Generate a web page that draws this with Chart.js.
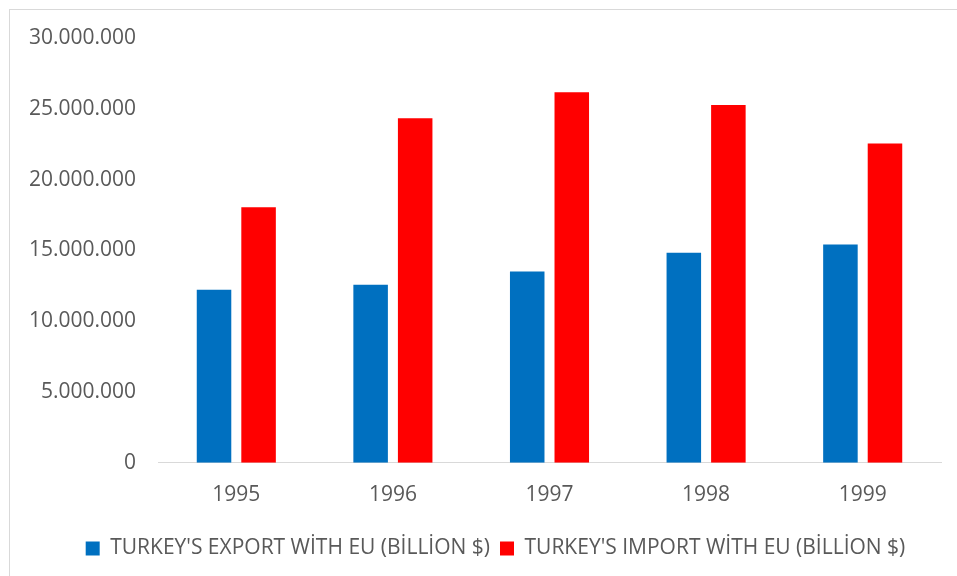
<!DOCTYPE html>
<html>
<head>
<meta charset="utf-8">
<script src="https://cdn.jsdelivr.net/npm/chart.js@4.4.1/dist/chart.umd.min.js"></script>
<style>
  html, body { margin: 0; padding: 0; background: #ffffff; overflow: hidden; }
  body { width: 957px; height: 576px; position: relative; }
  #frame {
    position: absolute; left: 9px; top: 9px;
    width: 971px; height: 600px;
    border-left: 1px solid #d9d9d9; border-top: 1px solid #d9d9d9;
  }
  #wrap { position: absolute; left: 0; top: 0; width: 971px; height: 566px; }
</style>
</head>
<body>
<div id="frame"><div id="wrap"><canvas id="chart"></canvas></div></div>
<script>
// Turkey's trade with the EU, 1995-1999
const years = ['1995', '1996', '1997', '1998', '1999'];
const exportEU = [12220000, 12570000, 13510000, 14840000, 15420000];
const importEU = [18040000, 24340000, 26160000, 25260000, 22550000];
const seriesNames = ["TURKEY'S EXPORT WİTH EU (BİLLİON $)", "TURKEY'S IMPORT WİTH EU (BİLLİON $)"];
const yMax = 30000000;
const yStep = 5000000;

const textGray = '#595959';
const fontFamily = "'Open Sans', sans-serif";

// 30000000 -> "30.000.000"
function dotted(v) {
  return String(Math.round(v)).replace(/\B(?=(\d{3})+(?!\d))/g, '.');
}

new Chart(document.getElementById('chart'), {
  type: 'bar',
  data: {
    labels: years,
    datasets: [
      { label: seriesNames[0], data: exportEU, backgroundColor: '#0070C0', borderWidth: 0 },
      { label: seriesNames[1], data: importEU, backgroundColor: '#FF0000', borderWidth: 0 }
    ]
  },
  options: {
    responsive: true,
    maintainAspectRatio: false,
    animation: false,
    categoryPercentage: 0.569,
    barPercentage: 0.775,
    layout: { padding: { top: 28, left: 0, right: 0, bottom: 7 } },
    plugins: {
      tooltip: { enabled: false },
      legend: {
        position: 'bottom',
        labels: {
          color: textGray,
          font: { family: fontFamily, size: 21 },
          boxWidth: 14,
          boxHeight: 14,
          padding: 10
        }
      }
    },
    scales: {
      x: {
        grid: { display: false, drawTicks: false },
        border: { display: true, color: '#d9d9d9', width: 1 },
        ticks: { color: textGray, font: { family: fontFamily, size: 21 }, padding: 20 }
      },
      y: {
        min: 0,
        max: yMax,
        // grid hidden; tick length only sets the gap between labels and plot
        grid: { display: false, drawTicks: true, tickLength: 20 },
        border: { display: false },
        ticks: {
          stepSize: yStep,
          color: textGray,
          font: { family: fontFamily, size: 21 },
          padding: 2,
          callback: v => dotted(v)
        },
        afterFit: s => { s.width = 148; }
      },
      // empty margin on the right of the plot
      yRight: {
        position: 'right',
        grid: { display: false, drawTicks: false },
        border: { display: false },
        ticks: { display: false },
        afterFit: s => { s.width = 40; }
      }
    }
  }
});
</script>
</body>
</html>
